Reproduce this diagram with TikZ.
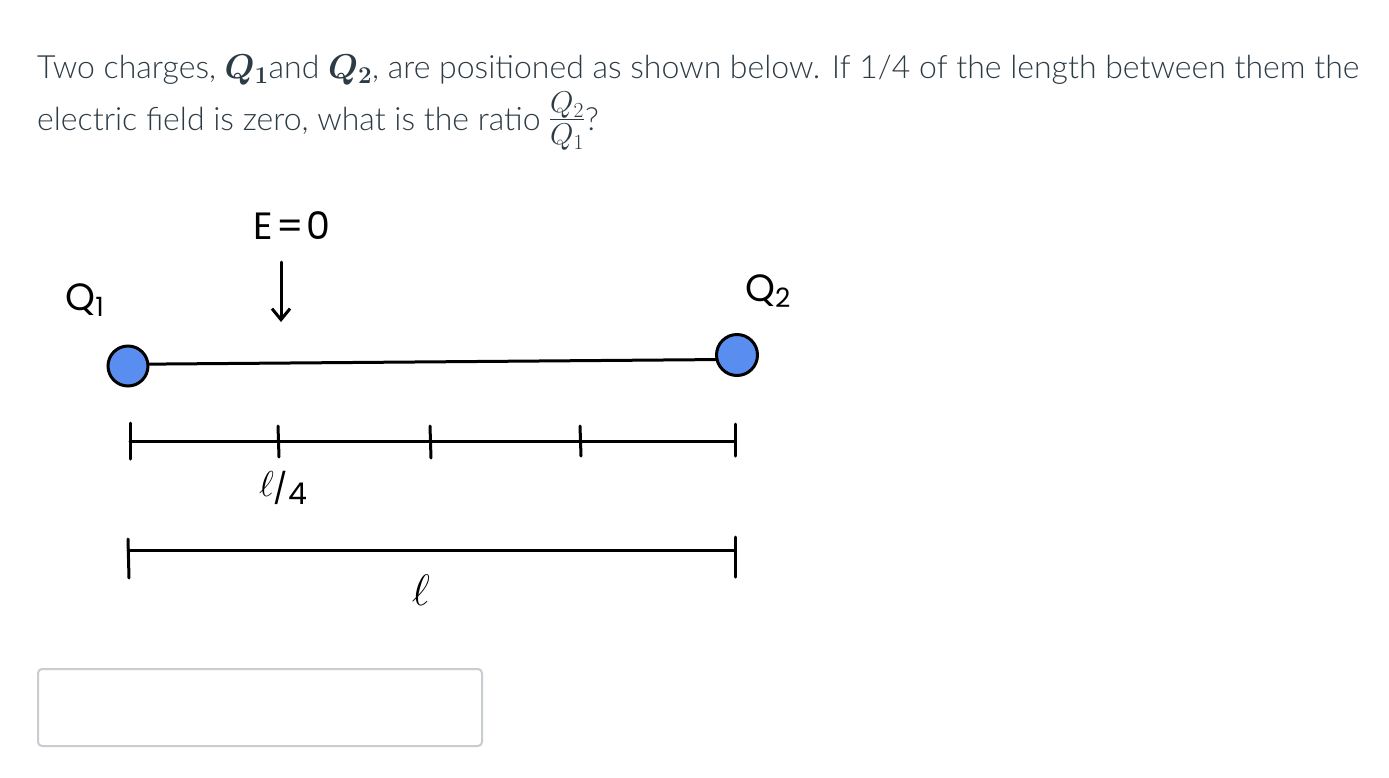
\RequirePackage{fix-cm}
\documentclass[tikz,border=0pt]{standalone}
\usepackage{fontspec}
\IfFontExistsTF{Lato Light}{\setmainfont{Lato Light}}{\setmainfont{Lato}}
\newfontfamily\handfont{Poppins}
\usetikzlibrary{arrows.meta}
\definecolor{txt}{HTML}{2D3B45}
\definecolor{chargefill}{HTML}{5A8DF0}
\definecolor{boxline}{HTML}{C8CDD1}
\newcommand{\bigmath}[1]{{\fontsize{34.5}{40}\selectfont\boldmath$#1$}}
\begin{document}
\begin{tikzpicture}[x=1pt,y=-1pt,
  para/.style={anchor=base west, inner sep=0pt, text=txt, font=\fontsize{32}{40}\selectfont},
  hand/.style={line width=3pt, line cap=round, line join=round, black},
  hw/.style={inner sep=0pt, text=black, font=\handfont\fontsize{38}{40}\selectfont},
  charge/.style={circle, minimum size=40pt, inner sep=0pt, fill=chargefill, draw=black, line width=3pt},
  answer/.style={draw=boxline, line width=2pt, rounded corners=4pt, minimum width=444pt, minimum height=77pt, inner sep=0pt}
]
\useasboundingbox (0,0) rectangle (1389,777);
\fill[white] (0,0) rectangle (1389,777);

% question text
\node[para] (line1) at (37,78) {Two charges, \bigmath{Q_1}and \bigmath{Q_2}, are positioned as shown below. If 1/4 of the length between them the};
\node[para] (line2) at (37,130) {electric field is zero, what is the ratio {\fontsize{43}{40}\selectfont$\frac{Q_2}{Q_1}$}?};

% E = 0 marker
\node[hw] (E) at (292,226) {E\kern3pt=\kern3pt0};
\coordinate (Etail) at (281,262);
\coordinate (Etip) at (281,322);
\draw[hand, -{Straight Barb[length=11pt, width=18pt, line width=3pt]}] (Etail) -- (Etip);

% charges
\node[hw] (Q1lab) at (85,300) {Q\textsubscript{1}};
\node[hw] (Q2lab) at (768,291) {Q\textsubscript{2}};
\node[charge] (q1) at (128,366) {};
\node[charge, minimum size=41pt] (q2) at (737,355) {};
\draw[hand] (q1.5) -- (q2.192);

% quarter ticks
\coordinate (a0) at (130,441);
\coordinate (a4) at (735,441);
\draw[hand] (a0) -- (a4);
\draw[hand] (130,423) -- (130,459);
\draw[hand] (278,426) -- (279,457);
\draw[hand] (430,426) -- (431,458);
\draw[hand] (580,426) -- (581,456);
\draw[hand] (735,424) -- (735,456);
\node[hw, font=\handfont\fontsize{30}{34}\selectfont] (quarter) at (283,488) {\raisebox{3pt}{\fontsize{36}{38}\selectfont$\ell$}/\raisebox{-5pt}{4}};

% full length
\coordinate (b0) at (128,550);
\coordinate (b1) at (735,550);
\draw[hand] (b0) -- (b1);
\draw[hand] (128,539) -- (129,578);
\draw[hand] (735,537) -- (735,577);
\node[hw, font=\fontsize{44}{46}\selectfont] (ell) at (421,590) {$\ell$};

% answer box
\node[answer] (box) at (260,707.5) {};
\end{tikzpicture}
\end{document}
